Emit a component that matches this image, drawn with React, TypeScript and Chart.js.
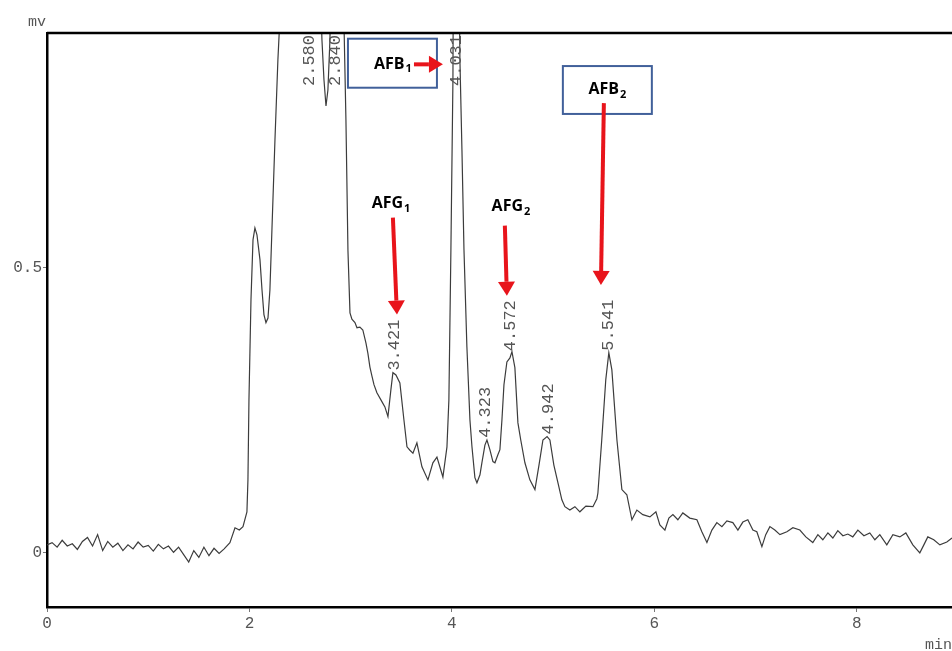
import { useEffect, useRef } from 'react';
import { Chart, registerables } from 'chart.js';
Chart.register(...registerables);

// Retention time (min) and detector signal (mV)
const TIMES = [
  0.000, 0.050, 0.100, 0.150, 0.200, 0.250, 0.300, 0.350, 0.400, 0.450,
  0.500, 0.550, 0.600, 0.650, 0.700, 0.750, 0.800, 0.850, 0.900, 0.950,
  1.000, 1.050, 1.100, 1.150, 1.200, 1.250, 1.300, 1.350, 1.400, 1.450,
  1.500, 1.550, 1.600, 1.650, 1.700, 1.750, 1.807, 1.857, 1.900, 1.936,
  1.975, 1.985, 1.995, 2.015, 2.035, 2.054, 2.074, 2.104, 2.124, 2.143,
  2.163, 2.183, 2.202, 2.222, 2.252, 2.281, 2.300, 2.350, 2.450, 2.580,
  2.660, 2.700, 2.716, 2.736, 2.756, 2.775, 2.795, 2.810, 2.840, 2.900,
  2.933, 2.953, 2.973, 2.993, 3.012, 3.042, 3.062, 3.091, 3.120, 3.151,
  3.170, 3.190, 3.210, 3.230, 3.259, 3.300, 3.338, 3.368, 3.397, 3.417,
  3.447, 3.486, 3.526, 3.556, 3.585, 3.615, 3.654, 3.704, 3.763, 3.812,
  3.852, 3.911, 3.951, 3.970, 3.990, 4.010, 4.031, 4.079, 4.099, 4.119,
  4.148, 4.178, 4.198, 4.227, 4.247, 4.277, 4.296, 4.326, 4.346, 4.375,
  4.405, 4.425, 4.454, 4.474, 4.494, 4.514, 4.543, 4.573, 4.593, 4.622,
  4.652, 4.680, 4.721, 4.770, 4.820, 4.860, 4.899, 4.940, 4.968, 5.007,
  5.047, 5.086, 5.116, 5.165, 5.215, 5.264, 5.323, 5.393, 5.432, 5.442,
  5.480, 5.520, 5.550, 5.580, 5.630, 5.679, 5.728, 5.778, 5.827, 5.886,
  5.956, 6.015, 6.054, 6.104, 6.143, 6.183, 6.232, 6.281, 6.350, 6.420,
  6.469, 6.519, 6.568, 6.617, 6.667, 6.716, 6.775, 6.825, 6.874, 6.923,
  6.973, 7.012, 7.062, 7.100, 7.141, 7.190, 7.240, 7.309, 7.368, 7.437,
  7.496, 7.565, 7.615, 7.664, 7.714, 7.763, 7.812, 7.862, 7.911, 7.960,
  8.010, 8.070, 8.128, 8.178, 8.227, 8.296, 8.356, 8.425, 8.484, 8.553,
  8.622, 8.662, 8.701, 8.760, 8.820, 8.889, 8.940,
];
const SIGNAL = [
  0.014, 0.018, 0.010, 0.022, 0.012, 0.016, 0.006, 0.020, 0.027, 0.012,
  0.032, 0.004, 0.020, 0.010, 0.017, 0.004, 0.014, 0.007, 0.019, 0.010,
  0.013, 0.003, 0.015, 0.007, 0.012, 0.001, 0.010, -0.003, -0.016, 0.004,
  -0.008, 0.010, -0.005, 0.008, -0.001, 0.007, 0.018, 0.044, 0.040, 0.046,
  0.072, 0.128, 0.268, 0.444, 0.549, 0.570, 0.558, 0.514, 0.461, 0.418,
  0.404, 0.412, 0.461, 0.567, 0.725, 0.865, 0.935, 1.300, 1.600, 1.700,
  1.400, 1.000, 0.900, 0.830, 0.784, 0.812, 0.900, 1.100, 1.400, 1.100,
  0.935, 0.760, 0.530, 0.421, 0.410, 0.404, 0.395, 0.396, 0.391, 0.368,
  0.350, 0.326, 0.310, 0.295, 0.281, 0.268, 0.256, 0.239, 0.286, 0.316,
  0.312, 0.298, 0.233, 0.186, 0.180, 0.175, 0.193, 0.151, 0.128, 0.158,
  0.168, 0.133, 0.186, 0.268, 0.532, 0.830, 1.800, 0.865, 0.707, 0.532,
  0.361, 0.233, 0.186, 0.132, 0.123, 0.137, 0.158, 0.189, 0.198, 0.181,
  0.160, 0.158, 0.172, 0.181, 0.233, 0.295, 0.335, 0.342, 0.353, 0.325,
  0.228, 0.198, 0.158, 0.128, 0.111, 0.154, 0.198, 0.204, 0.198, 0.154,
  0.123, 0.093, 0.081, 0.075, 0.081, 0.072, 0.082, 0.081, 0.095, 0.105,
  0.198, 0.304, 0.351, 0.321, 0.198, 0.111, 0.102, 0.058, 0.075, 0.067,
  0.063, 0.072, 0.049, 0.040, 0.061, 0.067, 0.058, 0.070, 0.061, 0.058,
  0.037, 0.018, 0.040, 0.053, 0.046, 0.056, 0.053, 0.040, 0.054, 0.058,
  0.040, 0.037, 0.011, 0.032, 0.046, 0.040, 0.032, 0.037, 0.044, 0.040,
  0.028, 0.018, 0.032, 0.023, 0.035, 0.026, 0.039, 0.030, 0.033, 0.028,
  0.040, 0.030, 0.035, 0.023, 0.032, 0.014, 0.032, 0.028, 0.035, 0.014,
  0.000, 0.014, 0.028, 0.023, 0.014, 0.019, 0.026,
];

// Integrated peaks: retention time labels and apex heights (mV)
const PEAK_LABELS = ['2.580', '2.840', '3.421', '4.031', '4.323', '4.572', '4.942', '5.541'];
const PEAK_TIMES = [2.58, 2.84, 3.421, 4.031, 4.323, 4.572, 4.942, 5.541];
const PEAK_APEX = [1.7, 1.4, 0.318, 1.8, 0.2, 0.352, 0.206, 0.353];

const X_TICKS = [0, 2, 4, 6, 8];
const Y_TICKS = [0, 0.5];

// Annotations (data coordinates)
const BOX_LABELS = [
  { main: 'AFB', sub: '1', box: [2.973, 3.852, 0.902, 0.816], text: [3.417, 0.857] },
  { main: 'AFB', sub: '2', box: [5.096, 5.975, 0.854, 0.770], text: [5.536, 0.813] },
];
const FREE_LABELS = [
  { main: 'AFG', sub: '1', text: [3.398, 0.613] },
  { main: 'AFG', sub: '2', text: [4.583, 0.607] },
];
const ARROWS = [
  [3.625, 0.857, 3.911, 0.857],
  [3.417, 0.588, 3.457, 0.418],
  [4.523, 0.574, 4.543, 0.451],
  [5.501, 0.789, 5.472, 0.470],
];

const MONO = '"Liberation Mono", "DejaVu Sans Mono", monospace';
const SANS = '"Open Sans", "Liberation Sans", sans-serif';

function drawSubLabel(ctx: CanvasRenderingContext2D, main: string, sub: string, cx: number, cy: number) {
  ctx.save();
  ctx.fillStyle = '#000';
  ctx.textBaseline = 'middle';
  ctx.textAlign = 'left';
  ctx.font = `bold 16px ${SANS}`;
  const w1 = ctx.measureText(main).width;
  ctx.font = `bold 11px ${SANS}`;
  const w2 = ctx.measureText(sub).width;
  const x0 = cx - (w1 + w2 + 1) / 2;
  ctx.font = `bold 16px ${SANS}`;
  ctx.fillText(main, x0, cy);
  ctx.font = `bold 11px ${SANS}`;
  ctx.fillText(sub, x0 + w1 + 1, cy + 5);
  ctx.restore();
}

function drawArrow(ctx: CanvasRenderingContext2D, x1: number, y1: number, x2: number, y2: number) {
  const ang = Math.atan2(y2 - y1, x2 - x1);
  const headLen = 14;
  const headW = 8.5;
  const bx = x2 - headLen * Math.cos(ang);
  const by = y2 - headLen * Math.sin(ang);
  ctx.save();
  ctx.strokeStyle = '#e8141b';
  ctx.fillStyle = '#e8141b';
  ctx.lineWidth = 4;
  ctx.beginPath();
  ctx.moveTo(x1, y1);
  ctx.lineTo(bx, by);
  ctx.stroke();
  ctx.beginPath();
  ctx.moveTo(x2, y2);
  ctx.lineTo(bx + headW * Math.sin(ang), by - headW * Math.cos(ang));
  ctx.lineTo(bx - headW * Math.sin(ang), by + headW * Math.cos(ang));
  ctx.closePath();
  ctx.fill();
  ctx.restore();
}

const annotPlugin = {
  id: 'chromAnnot',
  afterDatasetsDraw(chart: any) {
    const { ctx, chartArea, scales } = chart;
    const xs = scales.x;
    const ys = scales.y;
    // top frame line
    ctx.save();
    ctx.strokeStyle = '#000';
    ctx.lineWidth = 2.5;
    ctx.beginPath();
    ctx.moveTo(chartArea.left, chartArea.top);
    ctx.lineTo(chartArea.right, chartArea.top);
    ctx.stroke();
    ctx.restore();

    // retention-time labels
    ctx.save();
    ctx.font = `17px ${MONO}`;
    ctx.fillStyle = '#555';
    ctx.textAlign = 'left';
    ctx.textBaseline = 'middle';
    PEAK_LABELS.forEach((lab, i) => {
      const x = xs.getPixelForValue(PEAK_TIMES[i]) + 1;
      const len = ctx.measureText(lab).width;
      let y = ys.getPixelForValue(PEAK_APEX[i]) - 1;
      if (y - len < chartArea.top + 2) y = chartArea.top + 2 + len;
      ctx.save();
      ctx.translate(x, y);
      ctx.rotate(-Math.PI / 2);
      ctx.fillText(lab, 0, 0);
      ctx.restore();
    });
    ctx.restore();

    // boxes
    BOX_LABELS.forEach((b) => {
      const x1 = xs.getPixelForValue(b.box[0]);
      const x2 = xs.getPixelForValue(b.box[1]);
      const y1 = ys.getPixelForValue(b.box[2]);
      const y2 = ys.getPixelForValue(b.box[3]);
      ctx.save();
      ctx.fillStyle = '#fff';
      ctx.fillRect(x1, y1, x2 - x1, y2 - y1);
      ctx.strokeStyle = '#41609a';
      ctx.lineWidth = 2;
      ctx.strokeRect(x1, y1, x2 - x1, y2 - y1);
      ctx.restore();
      drawSubLabel(ctx, b.main, b.sub, xs.getPixelForValue(b.text[0]), ys.getPixelForValue(b.text[1]));
    });
    FREE_LABELS.forEach((b) => {
      drawSubLabel(ctx, b.main, b.sub, xs.getPixelForValue(b.text[0]), ys.getPixelForValue(b.text[1]));
    });
    ARROWS.forEach((a) => {
      drawArrow(
        ctx,
        xs.getPixelForValue(a[0]), ys.getPixelForValue(a[1]),
        xs.getPixelForValue(a[2]), ys.getPixelForValue(a[3])
      );
    });

    // axis unit labels
    ctx.save();
    ctx.font = `15px ${MONO}`;
    ctx.fillStyle = '#555';
    ctx.textBaseline = 'middle';
    ctx.textAlign = 'center';
    ctx.fillText('mv', chartArea.left - 10, chartArea.top - 11);
    ctx.textAlign = 'left';
    ctx.fillText('min', chartArea.right - 27, chart.height - 6);
    ctx.restore();
  },
};

export default function App() {
  const ref = useRef<HTMLCanvasElement>(null);
  useEffect(() => {
    if (!ref.current) return;
    const data = TIMES.map((t, i) => ({ x: t, y: SIGNAL[i] }));
    const chart = new Chart(ref.current, {
      type: 'line',
      data: {
        datasets: [
          {
            data,
            borderColor: '#3c3c3c',
            borderWidth: 1.2,
            pointRadius: 0,
            tension: 0,
            fill: false,
          },
        ],
      },
      options: {
        responsive: false,
        devicePixelRatio: 1,
        animation: false,
        layout: { padding: { top: 33, left: 0, right: 0, bottom: 0 } },
        plugins: { legend: { display: false }, tooltip: { enabled: false } },
        scales: {
          x: {
            type: 'linear',
            min: 0,
            max: 8.94,
            afterBuildTicks: (s: any) => {
              s.ticks = X_TICKS.map((v) => ({ value: v }));
            },
            afterFit: (s: any) => {
              s.height = 44;
            },
            ticks: {
              font: { family: MONO, size: 16 },
              color: '#555',
              padding: 2,
              maxRotation: 0,
              autoSkip: false,
            },
            grid: { display: true, drawOnChartArea: false, drawTicks: true, tickLength: 5, color: '#777' },
            border: { display: true, color: '#000', width: 2.5 },
          },
          y: {
            type: 'linear',
            min: -0.095,
            max: 0.912,
            afterBuildTicks: (s: any) => {
              s.ticks = Y_TICKS.map((v) => ({ value: v }));
            },
            afterFit: (s: any) => {
              s.width = 47;
            },
            ticks: {
              font: { family: MONO, size: 16 },
              color: '#555',
              padding: 1,
              callback: (v: any) => (v === 0 ? '0' : String(v)),
            },
            grid: { display: true, drawOnChartArea: false, drawTicks: true, tickLength: 4, color: '#777' },
            border: { display: true, color: '#000', width: 2.5 },
          },
        },
      },
      plugins: [annotPlugin],
    });
    return () => chart.destroy();
  }, []);
  return (
    <div style={{ position: 'absolute', left: 0, top: 0, width: 952, height: 651, background: '#fff' }}>
      <canvas ref={ref} width={952} height={651} style={{ display: 'block' }} />
    </div>
  );
}
